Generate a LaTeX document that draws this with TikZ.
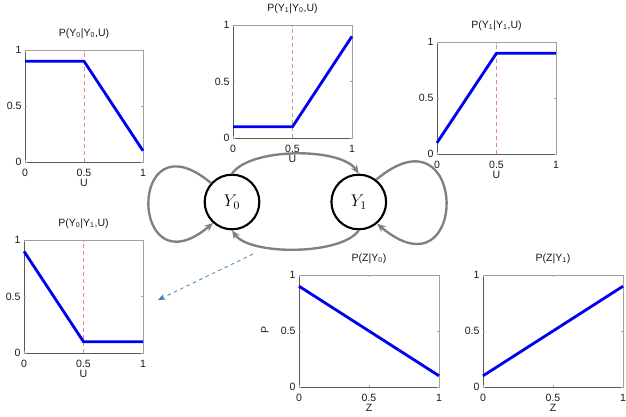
\documentclass[tikz,border=0pt]{standalone}
\usepackage[no-math]{fontspec}
\newfontfamily\plotfont{Liberation Sans}
\usetikzlibrary{arrows.meta,positioning,calc}
\definecolor{curveblue}{HTML}{0000EE}
\definecolor{loopgray}{HTML}{808080}
\definecolor{cueblue}{HTML}{4A7EBB}
\definecolor{midred}{HTML}{DC8C8C}
\definecolor{boxgray}{HTML}{A0A0A0}
\tikzset{
  % Hidden states
  state/.style={draw=black,line width=1.8pt,circle,minimum size=1.64cm,
                inner sep=0pt,font=\fontsize{14}{16}\selectfont},
  % Transitions
  trans/.style={-{Stealth[length=2.6mm,width=2.2mm]},draw=loopgray,line width=2pt},
  cue/.style={-{Stealth[length=2.2mm,width=1.8mm]},cueblue,dashed,line width=0.7pt},
  % Plot parts
  axbox/.style={draw=boxgray,line width=0.5pt},
  axside/.style={draw=black!65,line width=0.5pt},
  curve/.style={curveblue,line width=2.4pt,line join=round},
  midline/.style={midred,dashed,line width=0.5pt},
  tkl/.style={font=\plotfont\fontsize{9}{11}\selectfont,inner sep=0pt,text=black!90},
  ttl/.style={font=\plotfont\fontsize{9}{11}\selectfont,inner sep=0pt,text=black!90}
}
% #1 name, #2/#3 lower left corner, #4 width, #5 height,
% #6 title, #7 axis label, #8 curve, #9 drawn under the curve
\newcommand{\probplot}[9]{%
  \begin{scope}[shift={(#2,#3)},xscale=#4,yscale=#5]
    \draw[axbox] (0,0) rectangle (1,1);
    \draw[axside] (0,1) |- (1,0);
    \foreach \v [count=\i] in {0,0.5,1} {
      \draw[axbox] (\v,0) -- ++(0,0.015) (\v,1) -- ++(0,-0.015);
      \draw[axbox] (0,\v) -- ++(0.015,0) (1,\v) -- ++(-0.015,0);
      \node[tkl,yshift=-0.33cm] (#1-x\i) at (\v,0) {\v};
      \node[tkl,anchor=east,xshift=-0.1cm] (#1-y\i) at (0,\v) {\v};
    }
    \node[ttl,yshift=0.5cm] (#1-t) at (0.5,1) {#6};
    \node[tkl,yshift=-0.63cm] (#1-l) at (0.5,0) {#7};
    #9
    \draw[curve] #8;
  \end{scope}}

\begin{document}
\begin{tikzpicture}[x=0.03cm,y=0.03cm]
  \useasboundingbox (0,0) rectangle (626,416);

  % Transition probability plots
  \probplot{pa}{25}{254}{118}{112}{P(Y\textsubscript{0}|Y\textsubscript{0},U)}{U}
    {(0,0.9) -- (0.5,0.9) -- (1,0.1)}{\draw[midline] (0.5,0) -- (0.5,1);}
  \probplot{pb}{233}{278}{119}{113}{P(Y\textsubscript{1}|Y\textsubscript{0},U)}{U}
    {(0,0.1) -- (0.5,0.1) -- (1,0.9)}{\draw[midline] (0.5,0) -- (0.5,1);}
  \probplot{pc}{437}{262}{119}{112}{P(Y\textsubscript{1}|Y\textsubscript{1},U)}{U}
    {(0,0.1) -- (0.5,0.9) -- (1,0.9)}{\draw[midline] (0.5,0) -- (0.5,1);}
  \probplot{pd}{24}{63}{119}{113}{P(Y\textsubscript{0}|Y\textsubscript{1},U)}{U}
    {(0,0.9) -- (0.5,0.1) -- (1,0.1)}{\draw[midline] (0.5,0) -- (0.5,1);}

  % Emission plots
  \probplot{pz0}{299}{29}{140}{112}{P(Z|Y\textsubscript{0})}{Z}
    {(0,0.9) -- (1,0.1)}{}
  \probplot{pz1}{483}{29}{140}{112}{P(Z|Y\textsubscript{1})}{Z}
    {(0,0.1) -- (1,0.9)}{}
  \node[tkl,rotate=90] (plab) at (265,86) {P};

  % States
  \node[state] (y0) at (232,214) {$Y_0$};
  \node[state,right=2.1cm of y0] (y1) {$Y_1$};

  \draw[trans] (y0.north) to[out=55,in=125,looseness=0.65] (y1.north);
  \draw[trans] (y1.south) to[out=-125,in=-55,looseness=0.62] (y0.south);
  \draw[trans] (y0.138) to[out=140,in=220,looseness=7] (y0.228);
  \draw[trans] (y1.52) to[out=40,in=-40,looseness=7] (y1.-50);

  % Pointer to the Y1 -> Y0 plot
  \coordinate (cuefrom) at (253,162);
  \coordinate (cueto) at (158,116);
  \draw[cue] (cuefrom) -- (cueto);
\end{tikzpicture}
\end{document}
